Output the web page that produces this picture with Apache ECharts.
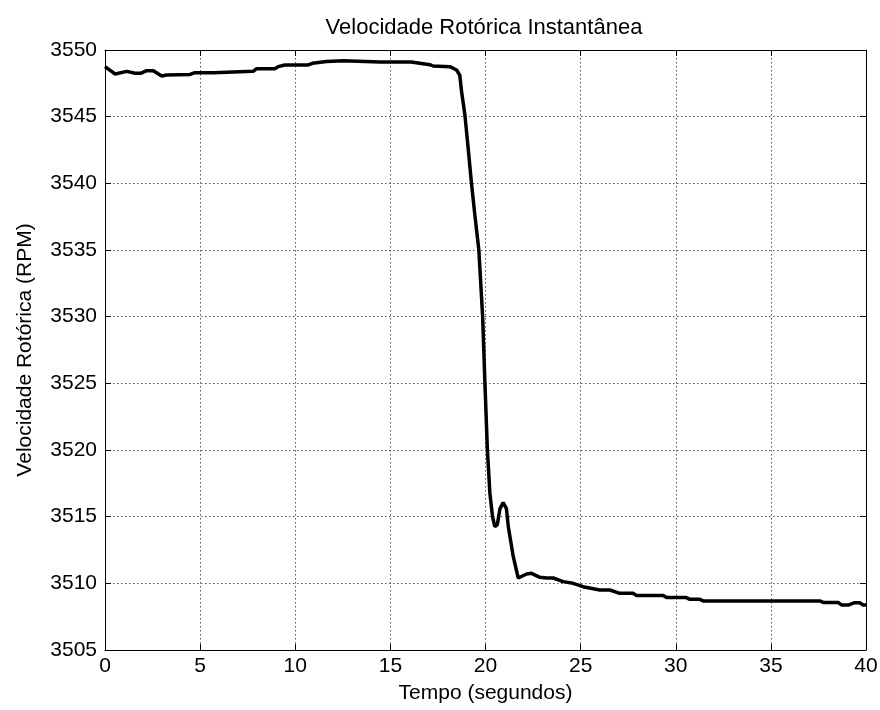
<!DOCTYPE html>
<html><head><meta charset="utf-8">
<script src="https://cdn.jsdelivr.net/npm/echarts@6/dist/echarts.min.js"></script>
<style>html,body{margin:0;padding:0;background:#fff}#c{width:880px;height:710px}</style>
</head><body><div id="c"></div>
<script>
var title = "Velocidade Rotórica Instantânea";
var xName = "Tempo (segundos)";
var yName = "Velocidade Rotórica (RPM)";
var timeS = [0, 0.53, 1.14, 1.58, 1.9, 2.19, 2.54, 2.98, 3.24, 4.47, 4.73, 5.69, 5.78, 7.79, 7.97, 8.93, 9.1, 9.46, 10.68, 10.9, 11.65, 12.52, 14.45, 16.1, 16.2, 17.08, 17.25, 18.13, 18.48, 18.65, 18.74, 18.92, 19.09, 19.27, 19.45, 19.65, 19.85, 19.97, 20.1, 20.23, 20.37, 20.49, 20.62, 20.76, 20.93, 21.1, 21.2, 21.46, 21.72, 21.8, 22.16, 22.42, 22.86, 23.2, 23.56, 24.08, 24.6, 25.13, 26.0, 26.53, 27.06, 27.76, 27.94, 29.34, 29.51, 30.56, 30.74, 31.27, 31.44, 37.57, 37.75, 38.53, 38.71, 39.1, 39.41, 39.67, 39.85, 40];
var rpm = [3548.75, 3548.2, 3548.4, 3548.26, 3548.26, 3548.45, 3548.45, 3548.05, 3548.13, 3548.17, 3548.3, 3548.3, 3548.4, 3548.4, 3548.6, 3548.6, 3548.75, 3548.88, 3548.88, 3549.0, 3549.13, 3549.2, 3549.1, 3549.1, 3548.95, 3548.9, 3548.8, 3548.75, 3548.5, 3548.1, 3546.9, 3545.1, 3542.6, 3539.9, 3537.5, 3535.0, 3530.0, 3525.0, 3520.0, 3516.75, 3515.0, 3514.25, 3514.4, 3515.6, 3516.05, 3515.6, 3514.25, 3512.0, 3510.4, 3510.25, 3510.7, 3510.75, 3510.45, 3510.4, 3510.4, 3510.13, 3510.0, 3509.75, 3509.5, 3509.5, 3509.25, 3509.25, 3509.08, 3509.08, 3508.93, 3508.93, 3508.8, 3508.8, 3508.68, 3508.68, 3508.57, 3508.57, 3508.38, 3508.38, 3508.55, 3508.55, 3508.38, 3508.38];

var data = timeS.map(function(t, i){ return [t, rpm[i]]; });
var font = "Liberation Sans, Arial, sans-serif";
var fs = 21;
var chart = echarts.init(document.getElementById('c'));
var gridLine = {show:true, lineStyle:{color:'#555', type:[1.5,2.5], width:1}};
chart.setOption({
  animation:false,
  backgroundColor:'#fff',
  title:{text:title, left:479, top:12, textAlign:'center', textStyle:{fontFamily:font, fontSize:22, fontWeight:'normal', color:'#000'}},
  grid:{left:105, right:14, top:50, bottom:60, containLabel:false, outerBoundsMode:'none'},
  xAxis:[{
    type:'value', min:0, max:40, interval:5, name:xName, nameLocation:'middle', nameGap:33,
    nameTextStyle:{fontFamily:font, fontSize:fs, color:'#000'},
    axisLine:{show:true, onZero:false, lineStyle:{color:'#000', width:1}},
    axisTick:{show:true, inside:true, length:6, lineStyle:{color:'#000'}},
    axisLabel:{fontFamily:font, fontSize:fs, color:'#000', margin:6, formatter:function(v){return String(v);}},
    splitLine:gridLine
  },{
    type:'value', min:0, max:40, interval:5, position:'top',
    axisLine:{show:true, onZero:false, lineStyle:{color:'#000', width:1}},
    axisTick:{show:true, inside:true, length:6, lineStyle:{color:'#000'}},
    axisLabel:{show:false}, splitLine:{show:false}
  }],
  yAxis:[{
    type:'value', min:3505, max:3550, interval:5, name:yName, nameLocation:'middle', nameGap:69,
    nameTextStyle:{fontFamily:font, fontSize:fs, color:'#000'},
    axisLine:{show:true, onZero:false, lineStyle:{color:'#000', width:1}},
    axisTick:{show:true, inside:true, length:6, lineStyle:{color:'#000'}},
    axisLabel:{fontFamily:font, fontSize:fs, color:'#000', margin:8, formatter:function(v){return String(v);}},
    splitLine:gridLine
  },{
    type:'value', min:3505, max:3550, interval:5, position:'right',
    axisLine:{show:true, onZero:false, lineStyle:{color:'#000', width:1}},
    axisTick:{show:true, inside:true, length:6, lineStyle:{color:'#000'}},
    axisLabel:{show:false}, splitLine:{show:false}
  }],
  series:[{type:'line', data:data, showSymbol:false, lineStyle:{color:'#000', width:3.5}, xAxisIndex:0, yAxisIndex:0}]
});
</script></body></html>
